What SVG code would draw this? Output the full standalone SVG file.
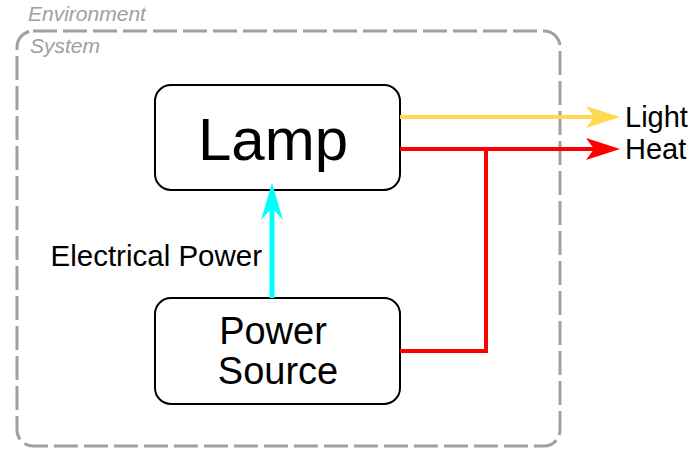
<svg xmlns="http://www.w3.org/2000/svg" width="693" height="450" viewBox="0 0 693 450">
<style>
.box{fill:#fff;stroke:#000;stroke-width:2}
.lbl{font-family:"Liberation Sans",Arial,sans-serif;fill:#000}
.ctx{font-family:"Liberation Sans",Arial,sans-serif;font-style:italic;fill:#a0a0a0;font-size:21px}
</style>
<rect width="693" height="450" fill="#fff"/>
<g id="environment">
<text class="ctx" x="28" y="21">Environment</text>
</g>
<g id="system">
<rect x="17" y="31" width="543" height="415" rx="16" fill="none" stroke="#a0a0a0" stroke-width="3" stroke-dasharray="24,6"/>
<text class="ctx" x="30" y="53">System</text>
</g>
<g id="lamp">
<rect class="box" x="155" y="85" width="245" height="105" rx="16"/>
<text class="lbl" x="273" y="160" font-size="60" text-anchor="middle">Lamp</text>
</g>
<g id="power-source">
<rect class="box" x="155" y="298" width="245" height="106" rx="16"/>
<text class="lbl" x="273" y="344" font-size="38" text-anchor="middle">Power</text>
<text class="lbl" x="278" y="384" font-size="38" text-anchor="middle">Source</text>
</g>
<g id="connectors">
<line x1="272" y1="298" x2="272" y2="205" stroke="#00ffff" stroke-width="5"/>
<polygon points="272,183 283,220 272,208 261,220" fill="#00ffff"/>
<text class="lbl" x="262" y="266" font-size="29.5" text-anchor="end">Electrical Power</text>
<line x1="400" y1="117" x2="598" y2="117" stroke="#ffd950" stroke-width="4"/>
<polygon points="620,117 586,106 594,117 586,128" fill="#ffd950"/>
<polyline points="400,149 598,149" fill="none" stroke="#ff0000" stroke-width="4"/>
<polyline points="400,351 486,351 486,149" fill="none" stroke="#ff0000" stroke-width="4"/>
<polygon points="620,149 586,138 594,149 586,160" fill="#ff0000"/>
<text class="lbl" x="625" y="127" font-size="29">Light</text>
<text class="lbl" x="625" y="159" font-size="29">Heat</text>
</g>
</svg>
